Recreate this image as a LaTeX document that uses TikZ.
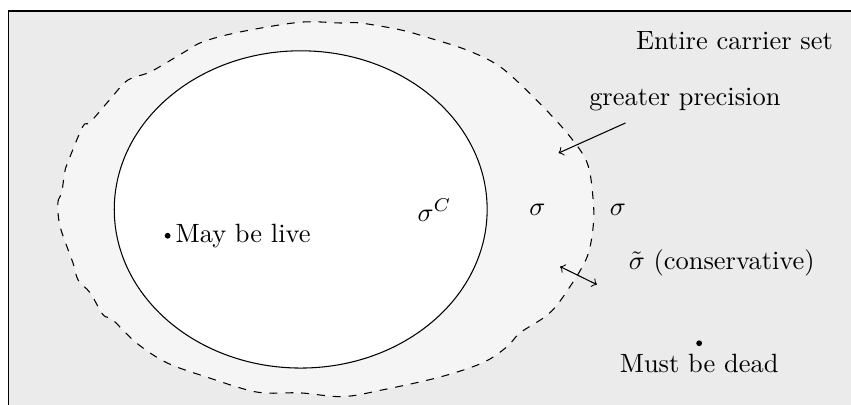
\documentclass[tikz,border=0pt]{standalone}
\usepackage{tikz}

\tikzset{
  carrier/.style={draw, fill=black!8, line width=0.5pt},
  approx/.style={dashed, fill=black!4},
  exact/.style={draw, fill=white},
  pt/.style={circle, fill, inner sep=0pt, minimum size=2.2pt},
}

\begin{document}
\begin{tikzpicture}

  \useasboundingbox (0,0) rectangle (11.32,5.386);
  \clip (0,0) rectangle (11.32,5.386);

  %=====================================================================
  % carrier set and the two approximations
  %=====================================================================
  \draw[carrier] (0.11,-1) rectangle (12,5.24);

  % conservative approximation: wobbly dashed blob
  \draw[approx] plot[smooth cycle, tension=0.55] coordinates {
    (0.80,2.37) (0.77,2.69) (0.82,2.82) (0.86,3.09) (0.90,3.22)
    (1.10,3.70) (1.20,3.76) (1.46,4.06) (1.70,4.32) (2.00,4.43)
    (2.43,4.68) (2.70,4.83) (3.19,4.96) (3.99,5.09) (4.52,5.08)
    (4.79,5.08) (5.32,4.99) (5.68,4.89) (6.21,4.72) (6.65,4.50)
    (7.09,4.10) (7.54,3.62) (7.81,3.22) (7.89,2.73) (7.89,2.37)
    (7.81,1.97) (7.58,1.57) (7.31,1.22) (6.92,0.96) (6.74,0.77)
    (6.42,0.56) (5.85,0.37) (5.09,0.20) (4.56,0.11) (3.99,0.16)
    (3.42,0.17) (2.75,0.37) (2.22,0.56) (1.82,0.82) (1.50,1.13)
    (1.37,1.20) (1.20,1.49) (1.04,1.66) (0.97,1.89)};

  % exact set
  \draw[exact] (4.00,2.60) ellipse (2.48 and 2.11);

  %=====================================================================
  % labels
  %=====================================================================
  \node (carrier) at (9.77,4.85) {Entire carrier set};
  \node (sigC) at (5.78,2.59) {$\sigma^C$};
  \node (sigIn) at (7.15,2.59) {$\sigma$};
  \node (sigOut) at (8.22,2.59) {$\sigma$};
  \node (cons) at (9.60,1.89) {$\tilde{\sigma}$ (conservative)};
  \node (prec) at (9.11,4.06) {greater precision};

  % points
  \node[pt] (live) at (2.23,2.25) {};
  \node[anchor=west, inner sep=1.5pt] (liveTxt) at (live.east) {May be live};
  \node[pt] (dead) at (9.30,0.82) {};
  \node (deadTxt) at (9.30,0.55) {Must be dead};

  %=====================================================================
  % arrows
  %=====================================================================
  \coordinate (precTail) at (8.32,3.75);
  \coordinate (precTip) at (7.43,3.35);
  \draw[->] (precTail) -- (precTip);

  \coordinate (consA) at (7.45,1.84);
  \coordinate (consB) at (7.94,1.60);
  \draw[<->] (consA) -- (consB);

\end{tikzpicture}
\end{document}
